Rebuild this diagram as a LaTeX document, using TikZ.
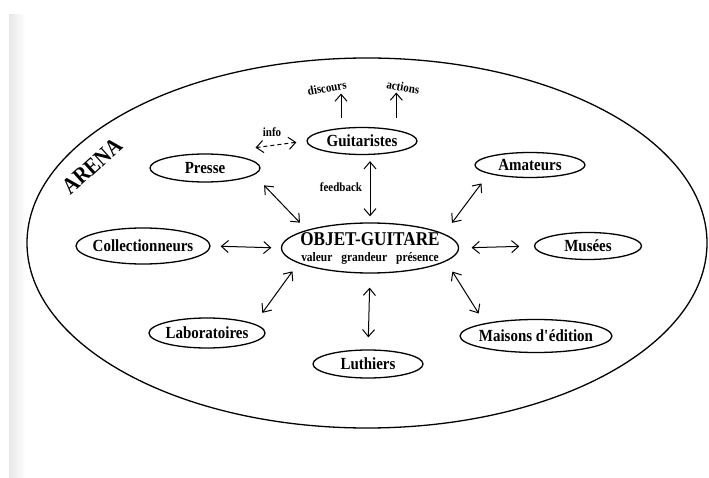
\documentclass[tikz,border=0pt]{standalone}
\usepackage{fontspec}
\setmainfont{Liberation Serif}[FakeStretch=0.88]
\usepackage{tikz}
\usetikzlibrary{shapes,arrows.meta,positioning}

\newcommand{\sanslarg}[1]{\makebox[0pt]{#1}}

\begin{document}
\begin{tikzpicture}[x=1pt,y=-1pt,
		acteur/.style={draw, ellipse, line width=1.3pt, inner sep=0pt, font=\bfseries\fontsize{17}{19}\selectfont},
		mot/.style={inner sep=1pt, font=\bfseries\fontsize{12.5}{14}\selectfont},
		lien/.style={<->, >={Straight Barb[length=7pt,width=12pt]}, line width=1pt},
		sortie/.style={->, >={Straight Barb[length=7pt,width=12pt]}, line width=1pt}]
	
	\useasboundingbox (0,0) rectangle (709,478);
	\fill[white] (0,0) rectangle (709,478);
	\shade[left color=gray!18, right color=white] (9,15) rectangle (26,478);
	
	% l'arene
	\draw[line width=1.3pt] (367,243) ellipse [x radius=340, y radius=185];
	\node (arena) at (92,166) [rotate=42, font=\bfseries\fontsize{23}{25}\selectfont] {ARENA};
	
	% les acteurs
	\node (objet) at (370,248) [acteur, minimum width=177pt, minimum height=50pt, align=center, font=\bfseries\fontsize{19.5}{20}\selectfont]
		{\sanslarg{OBJET-GUITARE}\\[-4pt]
		\fontsize{13}{13}\selectfont\sanslarg{valeur\hspace{9pt}grandeur\hspace{9pt}présence}};
	\node (guit) at (362,141) [acteur, minimum width=110pt, minimum height=27pt] {\sanslarg{Guitaristes}};
	\node (presse) at (205,168) [acteur, minimum width=110pt, minimum height=28pt] {\sanslarg{Presse}};
	\node (coll) at (143,246) [acteur, minimum width=134pt, minimum height=36pt] {\sanslarg{Collectionneurs}};
	\node (lab) at (207,333) [acteur, minimum width=116pt, minimum height=30pt] {\sanslarg{Laboratoires}};
	\node (luth) at (368,364) [acteur, minimum width=110pt, minimum height=28pt] {\sanslarg{Luthiers}};
	\node (amat) at (530,165) [acteur, minimum width=110pt, minimum height=25pt] {\sanslarg{Amateurs}};
	\node (mus) at (588,246) [acteur, minimum width=107pt, minimum height=27pt] {\sanslarg{Musées}};
	\node (mais) at (536,336) [acteur, minimum width=152pt, minimum height=33pt] {\sanslarg{Maisons d\textquotesingle édition}};
	
	\node (disc) at (327,88) [mot, rotate=10] {discours};
	\node (act) at (403,87) [mot, rotate=-10] {actions};
	\node (info) at (272,132) [mot] {info};
	\node (fb) at (341,187) [mot] {feedback};
	
	% les liens
	\draw[sortie, shorten <=10pt] (guit.148) -- (guit.148 |- disc.south);
	\draw[sortie, shorten <=12pt] (guit.18) -- (guit.18 |- act.south);
	\draw[lien, dash pattern=on 4pt off 3pt, shorten <=10pt, shorten >=45pt] (guit.west) -- (presse.68);
	
	\draw[lien, shorten <=6pt, shorten >=6pt] (guit.south -| objet.north) -- (objet.north);
	\draw[lien, shorten <=14.5pt, shorten >=10pt] (presse.-8) -- (objet.164);
	\draw[lien, shorten <=12pt, shorten >=13.5pt] (amat.192) -- (objet.11);
	\draw[lien, shorten <=10pt, shorten >=9.5pt] (coll.east) -- (objet.west);
	\draw[lien, shorten <=12.5pt, shorten >=14.5pt] (objet.east) -- (mus.west);
	\draw[lien, shorten <=10pt, shorten >=13.5pt] (objet.192) -- (lab.11);
	\draw[lien, shorten <=14pt, shorten >=12pt] (objet.south) -- (luth.north);
	\draw[lien, shorten <=12pt, shorten >=11.5pt] (objet.-10) -- (mais.166);
	
\end{tikzpicture}
\end{document}
